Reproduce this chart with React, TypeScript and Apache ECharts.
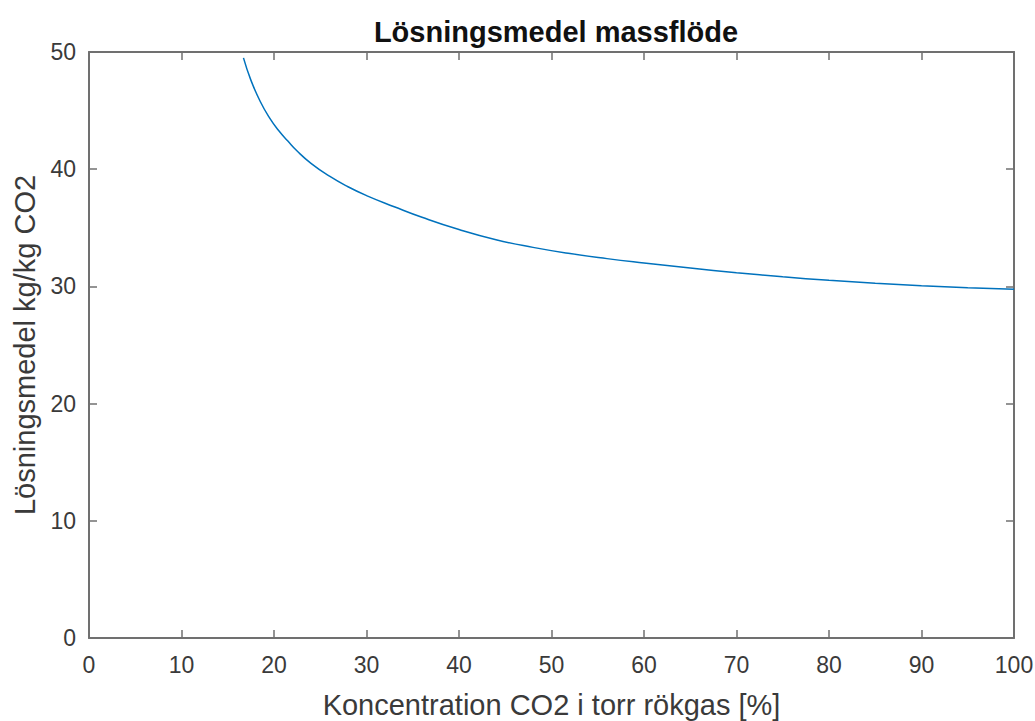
import React, { useEffect, useRef } from "react";
import * as echarts from "echarts";

const concentration = [16.7, 17.5, 18.5, 19.5, 20.5, 21.5, 22.5, 24, 26, 28, 30, 33, 36, 40, 44, 48, 52, 56, 60, 65, 70, 75, 80, 85, 90, 95, 100];
const solventFlow = [49.5, 47.6, 45.8, 44.4, 43.3, 42.4, 41.55, 40.5, 39.4, 38.5, 37.75, 36.8, 35.9, 34.85, 33.98, 33.33, 32.8, 32.37, 32.0, 31.57, 31.17, 30.82, 30.52, 30.27, 30.06, 29.89, 29.76];
const xTicks = { min: 0, max: 100, interval: 10 };
const yTicks = { min: 0, max: 50, interval: 10 };

const titleText = "Lösningsmedel massflöde";
const xName = "Koncentration CO2 i torr rökgas [%]";
const yName = "Lösningsmedel kg/kg CO2";

export default function App() {
  const ref = useRef<HTMLDivElement>(null);
  useEffect(() => {
    if (!ref.current) return;
    const chart = echarts.init(ref.current, null, { renderer: "svg" });
    const axisColor = "#707070";
    const labelColor = "#3a3a3a";
    const font = "Liberation Sans, Arial, Helvetica, sans-serif";
    const tick = { show: true, inside: true, length: 8, lineStyle: { color: axisColor, width: 1.5 } };
    const line = { show: true, onZero: false, lineStyle: { color: axisColor, width: 2 } };
    chart.setOption({
      animation: false,
      backgroundColor: "#ffffff",
      title: {
        text: titleText,
        left: 551,
        textAlign: "center",
        top: 12,
        textStyle: { fontFamily: font, fontWeight: "bold", fontSize: 29, color: "#111111" },
      },
      grid: {
        left: 89,
        right: 21,
        top: 52,
        bottom: 83,
        show: false,
        containLabel: false,
        outerBoundsMode: "none",
      },
      xAxis: [
        {
          type: "value",
          min: xTicks.min,
          max: xTicks.max,
          interval: xTicks.interval,
          name: xName,
          nameLocation: "middle",
          nameGap: 52,
          nameTextStyle: { fontFamily: font, fontSize: 29, color: labelColor },
          axisLine: line,
          axisTick: tick,
          axisLabel: { fontFamily: font, fontSize: 23, color: labelColor, margin: 15 },
          splitLine: { show: false },
        },
        {
          type: "value",
          position: "top",
          min: xTicks.min,
          max: xTicks.max,
          interval: xTicks.interval,
          axisLine: line,
          axisTick: tick,
          axisLabel: { show: false },
          splitLine: { show: false },
        },
      ],
      yAxis: [
        {
          type: "value",
          min: yTicks.min,
          max: yTicks.max,
          interval: yTicks.interval,
          name: yName,
          nameLocation: "middle",
          nameGap: 47,
          nameTextStyle: { fontFamily: font, fontSize: 29, color: labelColor },
          axisLine: line,
          axisTick: tick,
          axisLabel: { fontFamily: font, fontSize: 23, color: labelColor, margin: 13 },
          splitLine: { show: false },
        },
        {
          type: "value",
          position: "right",
          min: yTicks.min,
          max: yTicks.max,
          interval: yTicks.interval,
          axisLine: line,
          axisTick: tick,
          axisLabel: { show: false },
          splitLine: { show: false },
        },
      ],
      series: [
        {
          type: "line",
          data: concentration.map((x, i) => [x, solventFlow[i]]),
          smooth: 0.5,
          showSymbol: false,
          symbol: "none",
          lineStyle: { color: "#0072BD", width: 1.5 },
        },
      ],
    });
    return () => chart.dispose();
  }, []);
  return <div ref={ref} style={{ width: 1035, height: 721, position: "absolute", left: 0, top: 0 }} />;
}
